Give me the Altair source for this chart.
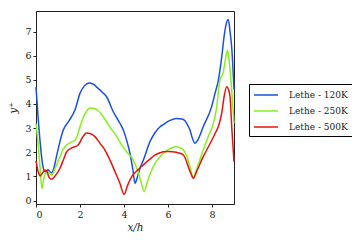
import altair as alt
import pandas as pd

series_names = ["Lethe - 120K", "Lethe - 250K", "Lethe - 500K"]
colors = ["#1a4fe6", "#86f01a", "#e8130f"]

x_120 = [0, 0.1, 0.2, 0.3, 0.41, 0.5, 0.55, 0.62, 0.7, 0.8, 0.9, 1.05, 1.24, 1.5, 1.77, 2.0, 2.2, 2.42, 2.6, 2.83, 3.0, 3.21, 3.5, 3.75, 3.97, 4.15, 4.27, 4.4, 4.5, 4.6, 4.75, 4.88, 5.18, 5.4, 5.64, 5.79, 6.0, 6.2, 6.39, 6.6, 6.7, 6.85, 7.0, 7.12, 7.23, 7.35, 7.6, 7.98, 8.14, 8.29, 8.45, 8.55, 8.67, 8.74, 8.82, 8.9, 9.0]
y_120 = [4.7, 3.4, 2.3, 1.5, 1.2, 1.25, 1.28, 1.2, 1.15, 1.3, 1.7, 2.3, 2.92, 3.3, 3.75, 4.44, 4.75, 4.87, 4.82, 4.64, 4.5, 4.3, 3.7, 3.3, 2.92, 2.4, 1.96, 1.3, 0.72, 0.95, 1.4, 1.68, 2.44, 2.8, 3.06, 3.15, 3.28, 3.36, 3.4, 3.38, 3.36, 3.2, 2.92, 2.55, 2.37, 2.5, 3.06, 3.88, 4.45, 4.99, 6.0, 6.8, 7.4, 7.5, 7.0, 6.3, 4.6]

x_250 = [0, 0.1, 0.2, 0.27, 0.35, 0.45, 0.56, 0.65, 0.71, 0.85, 1.09, 1.25, 1.39, 1.6, 1.77, 1.9, 2.0, 2.15, 2.3, 2.45, 2.6, 2.83, 3.06, 3.35, 3.67, 3.9, 4.12, 4.42, 4.6, 4.75, 4.92, 5.05, 5.26, 5.45, 5.64, 5.79, 6.05, 6.32, 6.5, 6.7, 6.85, 7.0, 7.15, 7.3, 7.6, 7.85, 8.06, 8.2, 8.36, 8.51, 8.6, 8.7, 8.78, 8.85, 9.0]
y_250 = [3.2, 2.3, 1.2, 0.5, 0.9, 1.15, 1.2, 1.1, 1.05, 1.3, 1.82, 2.15, 2.3, 2.42, 2.5, 2.75, 3.06, 3.45, 3.7, 3.83, 3.82, 3.72, 3.47, 3.05, 2.65, 2.3, 2.02, 1.68, 1.3, 0.85, 0.37, 0.75, 1.27, 1.6, 1.82, 1.96, 2.13, 2.23, 2.2, 2.1, 1.85, 1.4, 0.95, 1.3, 2.1, 2.7, 3.2, 3.8, 4.99, 5.3, 5.8, 6.22, 5.8, 5.1, 3.2]

x_500 = [0, 0.1, 0.18, 0.3, 0.41, 0.5, 0.6, 0.71, 0.85, 1.09, 1.25, 1.39, 1.6, 1.77, 1.92, 2.1, 2.3, 2.45, 2.68, 2.91, 3.06, 3.3, 3.59, 3.8, 4.01, 4.15, 4.35, 4.6, 4.88, 5.18, 5.4, 5.64, 5.79, 6.0, 6.2, 6.5, 6.7, 6.85, 6.92, 7.05, 7.15, 7.3, 7.6, 7.85, 8.14, 8.3, 8.44, 8.55, 8.67, 8.75, 8.82, 8.9, 9.0]
y_500 = [1.65, 1.2, 1.02, 1.15, 1.27, 1.2, 0.95, 0.88, 1.0, 1.34, 1.7, 2.02, 2.17, 2.23, 2.3, 2.6, 2.8, 2.78, 2.65, 2.37, 2.2, 1.8, 1.2, 0.75, 0.26, 0.6, 0.99, 1.25, 1.48, 1.72, 1.88, 1.98, 2.02, 2.03, 2.02, 1.97, 1.89, 1.6, 1.4, 1.1, 0.92, 1.2, 1.82, 2.25, 2.78, 3.1, 3.61, 4.3, 4.71, 4.6, 4.3, 3.0, 1.6]

x_ticks = [0, 2, 4, 6, 8]
y_ticks = [0, 1, 2, 3, 4, 5, 6, 7]

rows = []
for name, xs, ys in zip(series_names, [x_120, x_250, x_500], [y_120, y_250, y_500]):
    for i, (a, b) in enumerate(zip(xs, ys)):
        rows.append({"series": name, "x": a, "y": b, "order": i})
df = pd.DataFrame(rows)

font = "DejaVu Serif"

chart = alt.Chart(df).mark_line(strokeWidth=1.5, interpolate="monotone").encode(
    x=alt.X("x:Q", scale=alt.Scale(domain=[0, 9], nice=False, zero=False),
            axis=alt.Axis(values=x_ticks, title="x/h", titleFontStyle="italic",
                          titleFontWeight="normal", titlePadding=4)),
    y=alt.Y("y:Q", scale=alt.Scale(domain=[-0.14, 7.85], nice=False, zero=False),
            axis=alt.Axis(values=y_ticks, title="y⁺", titleFontStyle="italic",
                          titleFontWeight="normal", titlePadding=6)),
    color=alt.Color("series:N", scale=alt.Scale(domain=series_names, range=colors),
                    legend=alt.Legend(title=None, orient="none", legendX=213, legendY=73,
                                      symbolType="M-2,0L2,0", symbolSize=144, symbolStrokeWidth=1.5,
                                      symbolOffset=6, strokeColor="black", padding=4,
                                      labelOffset=16, rowPadding=4, labelFontSize=9,
                                      labelFont=font, labelColor="#222222")),
    order="order:Q",
).properties(
    width=198, height=193,
    autosize=alt.AutoSizeParams(type="none"),
    padding={"left": 28, "top": 3, "right": 118, "bottom": 34},
).configure(
    font=font
).configure_view(
    stroke="#222222", strokeWidth=1
).configure_axis(
    grid=False, domainColor="#222222", tickColor="#222222", tickSize=3,
    labelFont=font, titleFont=font, labelFontSize=9.5, titleFontSize=10.5,
    labelColor="#222222", titleColor="#222222", labelPadding=2
)

chart.save("out.html", embed_options={"renderer": "svg", "actions": False})
